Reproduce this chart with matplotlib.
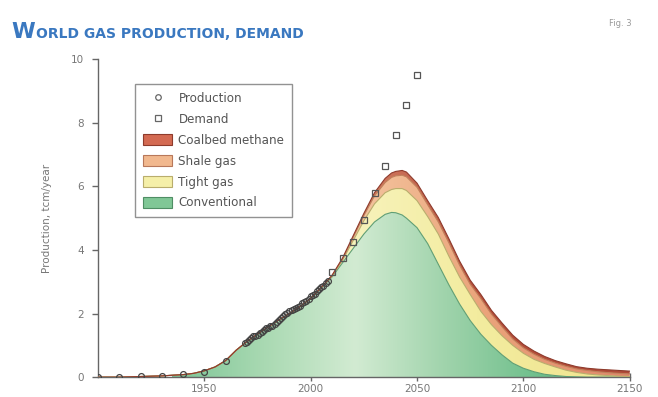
import numpy as np
import matplotlib
matplotlib.use("Agg")
import matplotlib.pyplot as plt
from matplotlib.lines import Line2D
from matplotlib.patches import Patch
from matplotlib.colors import LinearSegmentedColormap

# ---------------- data ----------------
years = [1900, 1910, 1920, 1930, 1940, 1945, 1950, 1955, 1960, 1965, 1970, 1975,
         1980, 1985, 1990, 1995, 2000, 2005, 2010, 2015, 2020, 2025, 2030, 2035,
         2038, 2040, 2043, 2045, 2050, 2055, 2060, 2065, 2070, 2075, 2080, 2085,
         2090, 2095, 2100, 2105, 2110, 2115, 2120, 2125, 2130, 2135, 2140, 2145, 2150]

# cumulative tops of the stacked layers (tcm/year)
conventional_top = [0.0, 0.0, 0.02, 0.04, 0.08, 0.12, 0.2, 0.32, 0.52, 0.85, 1.12, 1.36,
                    1.58, 1.8, 2.0, 2.22, 2.48, 2.8, 3.15, 3.6, 4.05, 4.5, 4.88, 5.12,
                    5.18, 5.17, 5.1, 5.0, 4.7, 4.2, 3.55, 2.9, 2.3, 1.78, 1.35, 1.0,
                    0.7, 0.44, 0.28, 0.17, 0.09, 0.05, 0.02, 0.01, 0.0, 0.0, 0.0, 0.0, 0.0]
tight_top = [0.0, 0.0, 0.02, 0.04, 0.08, 0.12, 0.2, 0.32, 0.52, 0.85, 1.12, 1.36,
             1.58, 1.8, 2.0, 2.22, 2.48, 2.81, 3.17, 3.68, 4.3, 4.92, 5.45, 5.8,
             5.9, 5.93, 5.93, 5.87, 5.55, 5.05, 4.5, 3.8, 3.15, 2.6, 2.07, 1.65,
             1.3, 1.0, 0.75, 0.56, 0.43, 0.32, 0.22, 0.15, 0.1, 0.07, 0.05, 0.03, 0.02]
shale_top = [0.0, 0.0, 0.02, 0.04, 0.08, 0.12, 0.2, 0.32, 0.52, 0.85, 1.12, 1.36,
             1.58, 1.8, 2.0, 2.22, 2.48, 2.82, 3.19, 3.72, 4.4, 5.08, 5.7, 6.12,
             6.28, 6.33, 6.35, 6.3, 5.97, 5.42, 4.88, 4.22, 3.52, 2.92, 2.47, 1.98,
             1.58, 1.2, 0.92, 0.72, 0.56, 0.44, 0.34, 0.26, 0.21, 0.17, 0.14, 0.12, 0.1]
coalbed_top = [0.0, 0.0, 0.02, 0.04, 0.08, 0.12, 0.2, 0.32, 0.52, 0.85, 1.12, 1.36,
               1.58, 1.8, 2.0, 2.22, 2.48, 2.83, 3.2, 3.75, 4.45, 5.15, 5.8, 6.25,
               6.42, 6.47, 6.5, 6.45, 6.1, 5.55, 5.02, 4.35, 3.65, 3.05, 2.6, 2.1,
               1.7, 1.32, 1.03, 0.82, 0.65, 0.52, 0.42, 0.33, 0.28, 0.25, 0.23, 0.21, 0.19]

prod_years = [1900, 1910, 1920, 1930, 1940, 1950, 1960,
              1969, 1970, 1971, 1972, 1973, 1974, 1975, 1976, 1977, 1978, 1979, 1980,
              1981, 1982, 1983, 1984, 1985, 1986, 1987, 1988, 1989, 1990, 1991, 1992,
              1993, 1994, 1995, 1996, 1997, 1998, 1999, 2000, 2001, 2002, 2003, 2004,
              2005, 2006, 2007, 2008]
production = [0.0, 0.02, 0.03, 0.05, 0.1, 0.17, 0.5,
              1.07, 1.12, 1.17, 1.22, 1.28, 1.3, 1.33, 1.38, 1.42, 1.47, 1.53, 1.56,
              1.6, 1.62, 1.66, 1.75, 1.8, 1.85, 1.92, 1.98, 2.03, 2.08, 2.12, 2.13,
              2.16, 2.2, 2.25, 2.33, 2.35, 2.4, 2.46, 2.54, 2.58, 2.63, 2.7, 2.77,
              2.82, 2.88, 2.95, 3.02]

demand_years = [2010, 2015, 2020, 2025, 2030, 2035, 2040, 2045, 2050]
demand = [3.3, 3.75, 4.25, 4.95, 5.78, 6.63, 7.6, 8.55, 9.5]

x_ticks = [1950, 2000, 2050, 2100, 2150]
y_ticks = [0, 2, 4, 6, 8, 10]
legend_labels = ["Production", "Demand", "Coalbed methane", "Shale gas", "Tight gas", "Conventional"]

# ---------------- figure ----------------
fig = plt.figure(figsize=(6.58, 3.97), dpi=100)
ax = fig.add_axes([0.149, 0.050, 0.808, 0.801])
ax.set_xlim(1900, 2150)
ax.set_ylim(0, 10)

x = np.array(years, dtype=float)
zero = np.zeros_like(x)
layers = [
    (zero, np.array(conventional_top), ["#7cc596", "#a9d9b2", "#d2ebd2", "#9fd3ab", "#6fbf8c", "#5fb680"], "#5f9e74"),
    (np.array(conventional_top), np.array(tight_top), ["#f3eea6", "#f8f4c2", "#f3ec9f", "#f0e48e"], "#b9ad6c"),
    (np.array(tight_top), np.array(shale_top), ["#efb68c", "#f6cda8", "#eba57c", "#e0876a"], "#c0805a"),
    (np.array(shale_top), np.array(coalbed_top), ["#c8604a", "#d98a6e", "#b9503c", "#b04a38"], "#8e3b2c"),
]

for lo, hi, cols, edge in layers:
    poly = ax.fill_between(x, lo, hi, facecolor="none", edgecolor="none", zorder=2)
    cmap = LinearSegmentedColormap.from_list("g", cols)
    grad = np.linspace(0, 1, 256).reshape(1, -1)
    im = ax.imshow(grad, cmap=cmap, aspect="auto", extent=[1935, 2150, 0, 10],
                   zorder=2, interpolation="bilinear")
    im.set_clip_path(poly.get_paths()[0], transform=ax.transData)
    ax.plot(x, hi, color=edge, lw=0.8, zorder=3)
ax.set_xlim(1900, 2150)
ax.set_ylim(0, 10)

ax.plot(prod_years, production, linestyle="none", marker="o", markersize=4.2,
        markerfacecolor="none", markeredgecolor="#444444", markeredgewidth=0.9, zorder=5)
ax.plot(demand_years, demand, linestyle="none", marker="s", markersize=4.5,
        markerfacecolor="none", markeredgecolor="#555555", markeredgewidth=0.9, zorder=5)

for s in ["top", "right"]:
    ax.spines[s].set_visible(False)
for s in ["left", "bottom"]:
    ax.spines[s].set_color("#666666")
    ax.spines[s].set_linewidth(1.0)
ax.set_xticks(x_ticks)
ax.set_yticks(y_ticks)
ax.tick_params(axis="x", direction="inout", length=6, width=1, colors="#666666",
               labelsize=7.5, labelcolor="#777777", pad=2)
ax.tick_params(axis="y", direction="out", length=4, width=1, colors="#666666",
               labelsize=7.5, labelcolor="#777777", pad=6)
ax.set_ylabel("Production, tcm/year", fontsize=7.5, color="#777777", labelpad=14)

handles = [
    Line2D([], [], linestyle="none", marker="o", markersize=4, markerfacecolor="none",
           markeredgecolor="#666666", markeredgewidth=0.9),
    Line2D([], [], linestyle="none", marker="s", markersize=4, markerfacecolor="none",
           markeredgecolor="#666666", markeredgewidth=0.9),
    Patch(facecolor="#d36a52", edgecolor="#8e3b2c", lw=0.8),
    Patch(facecolor="#f1b88e", edgecolor="#b8785a", lw=0.8),
    Patch(facecolor="#f5efa8", edgecolor="#b9ad6c", lw=0.8),
    Patch(facecolor="#80c796", edgecolor="#4f8e64", lw=0.8),
]
leg = ax.legend(handles, legend_labels, loc="upper left", bbox_to_anchor=(0.058, 0.94),
                fontsize=8.6, frameon=True, fancybox=False, edgecolor="#777777",
                handlelength=2.5, handleheight=1.0, labelspacing=0.66,
                borderpad=0.65, handletextpad=0.5, labelcolor="#555555")
leg.get_frame().set_linewidth(1.0)
leg.set_zorder(6)

# title in small caps style
t1 = fig.text(0.018, 0.905, "W", fontsize=15.5, fontweight="bold", color="#3a78c0",
              ha="left", va="baseline")
fig.canvas.draw()
bb = t1.get_window_extent(renderer=fig.canvas.get_renderer())
fig.text(bb.x1 / fig.bbox.width + 0.001, 0.905, "ORLD GAS PRODUCTION, DEMAND",
         fontsize=10, fontweight="bold", color="#3a78c0", ha="left", va="baseline")
fig.text(0.925, 0.935, "Fig. 3", fontsize=6, color="#999999", ha="left", va="baseline")

fig.savefig("out.png", dpi=100)
